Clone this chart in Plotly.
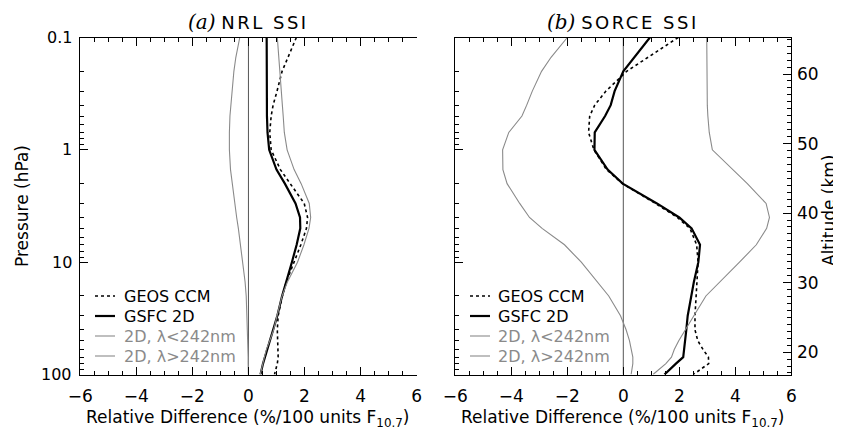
import math
import plotly.graph_objects as go

# ---------------- data ----------------
pressure_hpa = [0.1, 0.15, 0.2, 0.3, 0.4, 0.5, 0.7, 1, 1.5, 2, 3, 4, 5, 7,
                10, 15, 20, 30, 40, 50, 60, 70, 80, 100]

# (a) NRL SSI
nrl_geos_ccm = [1.71, 1.42, 1.20, 1.02, 0.88, 0.81, 0.76, 0.81, 1.14, 1.49, 1.99, 2.11,
                2.07, 1.87, 1.64, 1.35, 1.21, 1.06, 1.03, 1.04, 1.06, 1.06, 1.03, 0.93]
nrl_gsfc_2d = [0.65, 0.65, 0.65, 0.65, 0.66, 0.66, 0.68, 0.74, 1.00, 1.30, 1.68, 1.84,
               1.85, 1.72, 1.55, 1.34, 1.20, 1.03, 0.88, 0.76, 0.65, 0.58, 0.52, 0.43]
nrl_2d_lt242 = [1.03, 1.09, 1.13, 1.17, 1.21, 1.24, 1.28, 1.38, 1.63, 1.88, 2.17, 2.22,
                2.16, 1.98, 1.75, 1.39, 1.20, 1.02, 0.90, 0.76, 0.64, 0.57, 0.51, 0.42]
nrl_2d_gt242 = [-0.31, -0.45, -0.52, -0.58, -0.63, -0.66, -0.68, -0.68, -0.64, -0.58, -0.50, -0.42,
                -0.36, -0.28, -0.20, -0.12, -0.08, -0.05, -0.03, -0.02, -0.02, -0.01, -0.01, 0.0]

# (b) SORCE SSI
sorce_geos_ccm = [1.96, 0.87, 0.12, -0.62, -1.02, -1.20, -1.24, -1.05, -0.60, -0.03, 1.15, 1.93,
                  2.38, 2.62, 2.67, 2.63, 2.60, 2.56, 2.56, 2.66, 2.85, 3.04, 3.05, 2.50]
sorce_gsfc_2d = [0.95, 0.38, 0.0, -0.31, -0.45, -0.65, -1.02, -1.03, -0.56, -0.02, 1.20, 2.00,
                 2.44, 2.74, 2.68, 2.52, 2.42, 2.30, 2.25, 2.21, 2.17, 2.14, 1.88, 1.47]
sorce_2d_lt242 = [2.98, 2.98, 2.99, 3.00, 3.00, 3.02, 3.07, 3.18, 3.93, 4.43, 5.10, 5.22,
                  5.12, 4.75, 4.15, 3.45, 2.95, 2.52, 2.20, 1.98, 1.82, 1.72, 1.52, 1.06]
sorce_2d_gt242 = [-2.00, -2.58, -2.92, -3.25, -3.45, -3.62, -4.09, -4.31, -4.30, -4.15, -3.70, -3.35,
                  -2.90, -2.10, -1.50, -0.92, -0.52, -0.10, 0.10, 0.22, 0.30, 0.34, 0.34, 0.28]

series_names = ["GEOS CCM", "GSFC 2D", "2D, λ&lt;242nm", "2D, λ&gt;242nm"]
x_ticks = [-6, -4, -2, 0, 2, 4, 6]
pressure_ticks = [0.1, 1, 10, 100]
pressure_ticktext = ["0.1", "1", "10", "100"]
pressure_minor = [m * d for d in (0.1, 1, 10) for m in range(2, 10)]
altitude_ticks = [20, 30, 40, 50, 60]
altitude_ticktext = ["20", "30", "40", "50", "60"]
altitude_range = [16.78, 65.25]

# ---------------- styling ----------------
FONT = "DejaVu Sans, Verdana, sans-serif"
GRAY = "#8a8a8a"
styles = [
    dict(color="black", width=1.6, dash="dot"),
    dict(color="black", width=2.2),
    dict(color=GRAY, width=1.1),
    dict(color=GRAY, width=1.1),
]
label_colors = ["black", "black", GRAY, GRAY]

# The page body has an 8 px default margin: size the figure so it fills the
# 841x431 window and express every position in window pixels minus that margin.
OFF = 8
W, H = 841 - OFF, 431 - OFF


def px(x):
    return (x - OFF) / W


def py(y):
    return 1 - (y - OFF) / H


fig = go.Figure()

panels = [
    ("x", "y", [nrl_geos_ccm, nrl_gsfc_2d, nrl_2d_lt242, nrl_2d_gt242], 95, 122),
    ("x2", "y2", [sorce_geos_ccm, sorce_gsfc_2d, sorce_2d_lt242, sorce_2d_gt242], 470, 496),
]
for xa, ya, data, leg_x0, leg_tx in panels:
    for i, (name, vals, st, lc) in enumerate(zip(series_names, data, styles, label_colors)):
        fig.add_trace(go.Scatter(
            x=vals, y=pressure_hpa, mode="lines", line=st, name=name,
            xaxis=xa, yaxis=ya, showlegend=False,
        ))
        # legend entry (sample line + label), drawn inside the panel
        yp = py(296 + 20 * i)
        fig.add_shape(type="line", xref="paper", yref="paper",
                      x0=px(leg_x0), x1=px(leg_x0 + 20), y0=yp, y1=yp,
                      line=dict(color=st["color"], width=st["width"], dash=st.get("dash", "solid")))
        fig.add_annotation(x=px(leg_tx), y=yp, xref="paper", yref="paper", text=name,
                           showarrow=False, xanchor="left", yanchor="middle",
                           font=dict(family=FONT, size=16, color=lc))

# zero reference lines
for xa, ya in (("x", "y"), ("x2", "y2")):
    fig.add_shape(type="line", xref=xa, yref=f"{ya} domain", x0=0, x1=0, y0=0, y1=1,
                  line=dict(color="#555555", width=1), layer="below")

ydom = [py(374.5), py(37.5)]

common_x = dict(
    range=[-6, 6], tickvals=x_ticks, ticks="inside", ticklen=8, tickwidth=1, tickcolor="black",
    showline=True, linecolor="black", linewidth=1, mirror="ticks", showgrid=False, zeroline=False,
    automargin=False,
    minor=dict(dtick=0.5, tick0=0, ticks="inside", ticklen=4, tickcolor="black", showgrid=False),
    tickfont=dict(family=FONT, size=17, color="black"), ticklabelstandoff=6,
)
common_p = dict(
    type="log", range=[2, -1], domain=ydom, tickvals=pressure_ticks, ticktext=pressure_ticktext,
    ticks="inside", ticklen=8, tickwidth=1, tickcolor="black", showline=True, linecolor="black",
    linewidth=1, showgrid=False, zeroline=False, automargin=False, showticklabels=False,
    minor=dict(tickvals=pressure_minor, ticks="inside", ticklen=4, tickcolor="black", showgrid=False),
)
common_alt = dict(
    range=altitude_range, tickvals=altitude_ticks, side="right", ticks="inside", ticklen=8,
    tickwidth=1, tickcolor="black", showline=True, linecolor="black", linewidth=1,
    showgrid=False, zeroline=False, automargin=False, showticklabels=False,
    minor=dict(dtick=1, tick0=0, ticks="inside", ticklen=4, tickcolor="black", showgrid=False),
)

fig.update_layout(
    width=W, height=H, margin=dict(l=0, r=0, t=0, b=0, autoexpand=False),
    paper_bgcolor="white", plot_bgcolor="white", showlegend=False,
    font=dict(family=FONT, size=16, color="black"),
    xaxis=dict(domain=[px(80.3), px(416.6)], anchor="y", **common_x),
    xaxis2=dict(domain=[px(455.3), px(791.3)], anchor="y2", **common_x),
    yaxis=dict(anchor="x", **common_p),
    yaxis2=dict(anchor="x2", **common_p),
    yaxis3=dict(overlaying="y", anchor="x", domain=ydom, **common_alt),
    yaxis4=dict(overlaying="y2", anchor="x2", domain=ydom, **common_alt),
)

# y tick labels placed through the axes' own scales
for t, s in zip(pressure_ticks, pressure_ticktext):
    fig.add_annotation(x=px(74), y=math.log10(t), xref="paper", yref="y", text=s,
                       showarrow=False, xanchor="right", yanchor="middle",
                       font=dict(family=FONT, size=16, color="black"))
for t, s in zip(altitude_ticks, altitude_ticktext):
    fig.add_annotation(x=px(795), y=t, xref="paper", yref="y4", text=s,
                       showarrow=False, xanchor="left", yanchor="middle",
                       font=dict(family=FONT, size=17, color="black"))

ITAL = "font-family:'DejaVu Serif','Liberation Serif',serif;font-style:italic;font-size:20px"
SP = "letter-spacing:2.5px"
annots = [
    dict(x=248.5, y=22, text=f"<span style=\"{ITAL}\">(a)</span> <span style=\"{SP}\">NRL SSI</span>", size=18, angle=0),
    dict(x=622.5, y=22, text=f"<span style=\"{ITAL}\">(b)</span> <span style=\"{SP}\">SORCE SSI</span>", size=18, angle=0),
    dict(x=247, y=418, text="Relative Difference (%/100 units F<sub>10.7</sub>)", size=17, angle=0),
    dict(x=622, y=418, text="Relative Difference (%/100 units F<sub>10.7</sub>)", size=17, angle=0),
    dict(x=22, y=206, text="Pressure (hPa)", size=17, angle=-90),
    dict(x=829, y=210, text="Altitude (km)", size=17, angle=-90),
]
for a in annots:
    fig.add_annotation(x=px(a["x"]), y=py(a["y"]), xref="paper", yref="paper", text=a["text"],
                       showarrow=False, textangle=a["angle"], xanchor="center", yanchor="middle",
                       font=dict(family=FONT, size=a["size"], color="black"))

fig.write_html("out.html")
